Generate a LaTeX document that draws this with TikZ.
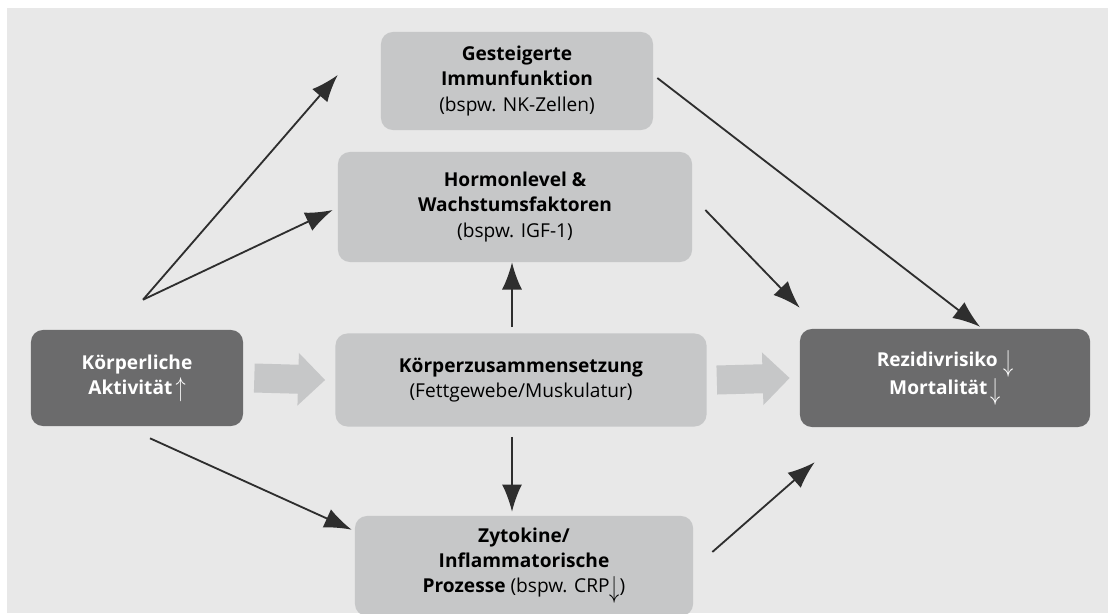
\documentclass[tikz,border=0pt]{standalone}
\usepackage{fontspec}
\setmainfont{Open Sans}
\usepackage{tikz}
\usetikzlibrary{arrows.meta,calc}

\definecolor{bggray}{HTML}{E8E8E8}
\definecolor{lightbox}{HTML}{C6C7C8}
\definecolor{darkbox}{HTML}{6B6B6C}
\definecolor{linegray}{HTML}{2E2E2E}

\newcommand{\upmark}{\raisebox{-0.2ex}{\scalebox{1}[1.35]{$\uparrow$}}}
\newcommand{\downmark}{\raisebox{-0.5ex}{\scalebox{1}[1.5]{$\downarrow$}}}

\tikzset{
    lightnode/.style={fill=lightbox, rounded corners=0.3cm, align=center, inner sep=0pt,
        font=\fontsize{13.6}{17.8}\selectfont},
    darknode/.style={fill=darkbox, rounded corners=0.3cm, align=center, inner sep=0pt,
        text=white, font=\fontsize{13.6}{17.8}\selectfont\bfseries},
    thinarrow/.style={draw=linegray, line width=1.3pt, -{Latex[length=0.68cm,width=0.5cm]}},
    bigarrow/.style={draw=lightbox, line width=0.725cm, -{Triangle[length=0.675cm,width=1.275cm]}}
}

\begin{document}
\begin{tikzpicture}[x=0.025cm, y=-0.025cm]
    \useasboundingbox (0,0) rectangle (1108,613);
    \fill[bggray] (7,8) rectangle (1108,613);

    \node[lightnode, minimum width=6.8cm, minimum height=2.45cm] (imm) at (517,81)
        {\textbf{Gesteigerte}\\\textbf{Immunfunktion}\\(bspw. NK-Zellen)};
    \node[lightnode, minimum width=8.85cm, minimum height=2.75cm] (horm) at (515,207)
        {\textbf{Hormonlevel \&}\\\textbf{Wachstumsfaktoren}\\(bspw. IGF-1)};
    \node[darknode, minimum width=5.3cm, minimum height=2.4cm] (akt) at (137,378)
        {K\"orperliche\\Aktivit\"at\,\upmark};
    \node[lightnode, minimum width=9.275cm, minimum height=2.325cm] (comp) at (521,380)
        {\textbf{K\"orperzusammensetzung}\\(Fettgewebe/Muskulatur)};
    \node[darknode, minimum width=7.25cm, minimum height=2.45cm] (out) at (945,378)
        {Rezidivrisiko\;\downmark\\Mortalit\"at\,\downmark};
    \node[lightnode, minimum width=8.45cm, minimum height=2.5cm] (zyt) at (524,566)
        {\textbf{Zytokine/}\\\textbf{Inflammatorische}\\\textbf{Prozesse} (bspw. CRP\downmark)};

    \coordinate (fan) at ($(akt.north)+(6,-30)$);

    % broad arrows along the middle row
    \draw[bigarrow] ($(akt.east)+(11,0)$) -- ($(comp.west)+(-10,0)$);
    \draw[bigarrow] ($(comp.east)+(10,0)$) -- ($(out.west)+(-10,0)$);

    % thin arrows
    \draw[thinarrow] (fan) -- ($(imm.west)+(-43,-6)$);
    \draw[thinarrow] (fan) -- ($(horm.west)+(-5,3)$);
    \draw[thinarrow] ($(akt.south)+(13,12)$) -- ($(zyt.north west)+(-3,14)$);
    \draw[thinarrow] ($(comp.north)+(-9,-6)$) -- ($(horm.south)+(-3,0)$);
    \draw[thinarrow] ($(comp.south)+(-9,10)$) -- ($(zyt.north)+(-12,-4)$);
    \draw[thinarrow] ($(imm.east)+(4,-3)$) -- ($(out.north)+(35,-2)$);
    \draw[thinarrow] ($(horm.east)+(13,3)$) -- ($(out.north west)+(0,-21)$);
    \draw[thinarrow] ($(zyt.east)+(19,-14)$) -- ($(out.south west)+(15,35)$);
\end{tikzpicture}
\end{document}
